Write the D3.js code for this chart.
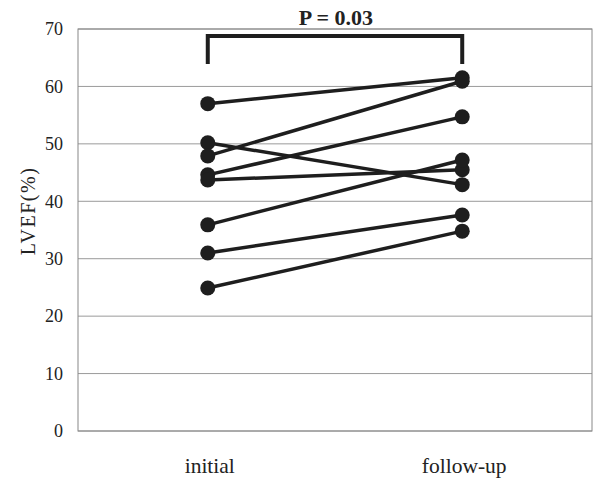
<!DOCTYPE html>
<html>
<head>
<meta charset="utf-8">
<script src="https://cdn.jsdelivr.net/npm/d3@7"></script>
<style>
  body { margin: 0; background: #fff; }
</style>
</head>
<body>
<div id="container"></div>
<script>
// categories and values
const groups = ["initial", "follow-up"];
const initial = [57.0, 50.2, 47.9, 44.6, 43.7, 35.9, 31.0, 24.9];
const followUp = [61.5, 42.9, 60.9, 54.7, 45.5, 47.2, 37.6, 34.8];
const yTicks = [0, 10, 20, 30, 40, 50, 60, 70];
const pLabel = "P = 0.03";

const width = 596, height = 483;
const margin = {top: 29, right: 4, bottom: 52, left: 78};
const serif = "'Liberation Serif', 'Times New Roman', 'DejaVu Serif', serif";

const svg = d3.create("svg")
    .attr("width", width)
    .attr("height", height)
    .attr("font-family", serif);

const x = d3.scalePoint()
    .domain(groups)
    .range([margin.left, width - margin.right])
    .padding(0.51);

const y = d3.scaleLinear()
    .domain([0, 70])
    .range([height - margin.bottom, margin.top]);

// gridlines
svg.append("g")
    .selectAll("line")
    .data(yTicks)
    .join("line")
    .attr("x1", margin.left)
    .attr("x2", width - margin.right)
    .attr("y1", d => y(d))
    .attr("y2", d => y(d))
    .attr("stroke", "#9a9a9a")
    .attr("stroke-width", 1);

// frame
svg.append("rect")
    .attr("x", margin.left)
    .attr("y", margin.top)
    .attr("width", width - margin.left - margin.right)
    .attr("height", y(0) - margin.top)
    .attr("fill", "none")
    .attr("stroke", "#888")
    .attr("stroke-width", 1);

// y axis labels
svg.append("g")
    .selectAll("text")
    .data(yTicks)
    .join("text")
    .attr("x", 63)
    .attr("y", d => y(d))
    .attr("dy", "0.35em")
    .attr("text-anchor", "end")
    .attr("font-family", serif)
    .attr("font-size", 18)
    .attr("fill", "#222")
    .text(d => d);

svg.append("text")
    .attr("transform", `translate(35,211) rotate(-90)`)
    .attr("text-anchor", "middle")
    .attr("font-family", serif)
    .attr("font-size", 20)
    .attr("letter-spacing", 1.5)
    .attr("fill", "#222")
    .text("LVEF(%)");

// x labels
svg.append("g")
    .selectAll("text")
    .data(groups)
    .join("text")
    .attr("x", d => x(d) + 2)
    .attr("y", 473)
    .attr("text-anchor", "middle")
    .attr("font-family", serif)
    .attr("font-size", 21.5)
    .attr("fill", "#222")
    .text(d => d);

// paired lines
const pairs = initial.map((v, i) => [v, followUp[i]]);

svg.append("g")
    .selectAll("line")
    .data(pairs)
    .join("line")
    .attr("x1", x(groups[0]))
    .attr("x2", x(groups[1]))
    .attr("y1", d => y(d[0]))
    .attr("y2", d => y(d[1]))
    .attr("stroke", "#1e1e1e")
    .attr("stroke-width", 3.5);

const dots = svg.append("g").attr("fill", "#1e1e1e");
dots.selectAll(".a")
    .data(initial)
    .join("circle")
    .attr("cx", x(groups[0]))
    .attr("cy", d => y(d))
    .attr("r", 7.5);
dots.selectAll(".b")
    .data(followUp)
    .join("circle")
    .attr("cx", x(groups[1]))
    .attr("cy", d => y(d))
    .attr("r", 7.5);

// significance bracket
const bTop = 36, bBottom = 64;
svg.append("path")
    .attr("d", `M${x(groups[0])},${bBottom}V${bTop}H${x(groups[1])}V${bBottom}`)
    .attr("fill", "none")
    .attr("stroke", "#1e1e1e")
    .attr("stroke-width", 4);

svg.append("text")
    .attr("x", (x(groups[0]) + x(groups[1])) / 2 + 1)
    .attr("y", 25)
    .attr("text-anchor", "middle")
    .attr("font-family", serif)
    .attr("font-size", 22)
    .attr("font-weight", "bold")
    .attr("fill", "#222")
    .text(pLabel);

document.getElementById("container").append(svg.node());
</script>
</body>
</html>
